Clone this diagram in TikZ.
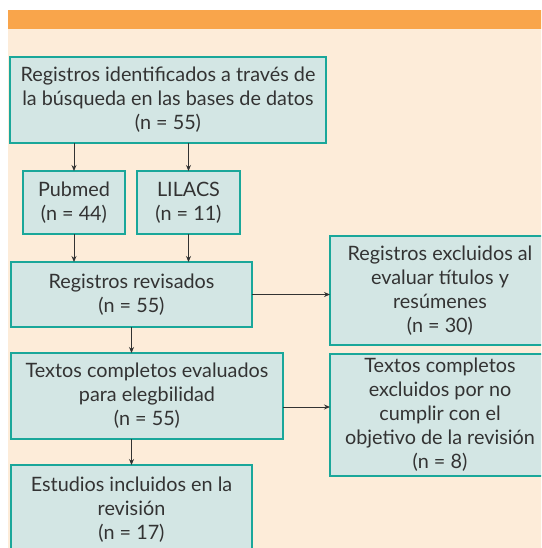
\documentclass[tikz,border=0pt]{standalone}
\usepackage{fontspec}
\setmainfont{Lato}
\usetikzlibrary{arrows.meta}
\definecolor{orangeband}{HTML}{F9A54B}
\definecolor{cream}{HTML}{FDECD9}
\definecolor{boxfill}{HTML}{D3E6E4}
\definecolor{boxline}{HTML}{1AA79A}
\definecolor{ink}{HTML}{333333}
\tikzset{
  flowbox/.style={draw=boxline, fill=boxfill, line width=1.4pt, align=center,
    text=ink, font=\fontsize{19.8}{24}\selectfont, inner sep=0pt, outer sep=0pt},
  conn/.style={draw=ink, line width=0.9pt, -{Stealth[length=6pt,width=5pt]}}
}
\begin{document}
\begin{tikzpicture}[x=1pt,y=-1pt]
\useasboundingbox (0,0) rectangle (541,548);
\clip (0,0) rectangle (541,548);
\fill[white] (0,0) rectangle (541,548);
\fill[cream] (8,29) rectangle (560,560);
\fill[orangeband] (8,10) rectangle (560,29);

\node[flowbox, minimum width=316pt, minimum height=86pt] (top) at (168,100)
  {Registros identificados a través de\\la búsqueda en las bases de datos\\(n = 55)};
\node[flowbox, minimum width=102pt, minimum height=63pt] (pub) at (74,202.5)
  {Pubmed\\(n = 44)};
\node[flowbox, minimum width=103pt, minimum height=63pt] (lil) at (188.5,202.5)
  {LILACS\\(n = 11)};
\node[flowbox, minimum width=241pt, minimum height=65pt] (rev) at (131.5,294.5)
  {Registros revisados\\(n = 55)};
\node[flowbox, minimum width=220pt, minimum height=109pt] (exa) at (440,290.5)
  {Registros excluidos al\\evaluar títulos y\\resúmenes\\(n = 30)};
\node[flowbox, minimum width=272pt, minimum height=86pt] (eva) at (147,396)
  {Textos completos evaluados\\para elegbilidad\\(n = 55)};
\node[flowbox, minimum width=220pt, minimum height=122pt] (exb) at (440,415)
  {Textos completos\\excluidos por no\\cumplir con el\\objetivo de la revisión\\(n = 8)};
\node[flowbox, minimum width=241pt, minimum height=90pt] (est) at (131.5,510)
  {Estudios incluidos en la\\revisión\\(n = 17)};

\draw[conn] (top.south -| pub) -- (pub.north);
\draw[conn] (top.south -| lil) -- (lil.north);
\draw[conn] (pub.south) -- (pub.south |- rev.north);
\draw[conn] (lil.south) -- (lil.south |- rev.north);
\draw[conn] (rev.south) -- (rev.south |- eva.north);
\draw[conn] (rev.south |- eva.south) -- (rev.south |- est.north);
\draw[conn] (rev.east) -- (rev.east -| exa.west);
\draw[conn] ([yshift=-11pt]eva.east) -- ([yshift=-11pt]eva.east -| exb.west);
\end{tikzpicture}
\end{document}
